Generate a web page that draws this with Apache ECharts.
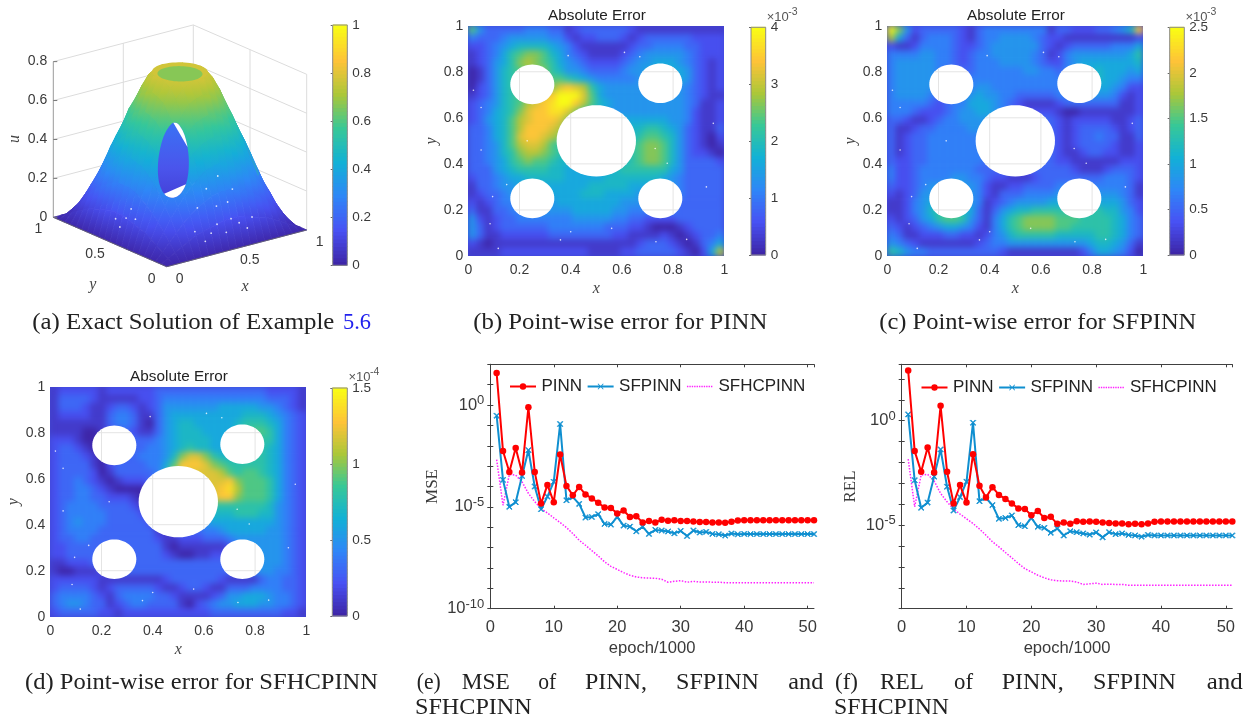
<!DOCTYPE html>
<html><head><meta charset="utf-8">
<script src="https://cdn.jsdelivr.net/npm/echarts@6/dist/echarts.min.js"></script>
<style>
html,body{margin:0;padding:0;background:#fff;width:1254px;height:717px;overflow:hidden}
.layer{position:absolute;left:0;top:0;width:1254px;height:717px}
</style></head><body>
<div class="layer" style="filter:blur(0.7px)" id="surface"></div>
<div class="layer" id="heatClip" style="background:#4046d0;clip-path:path('M468 26H724V256H468Z M887 26H1143V256H887Z M50 387H306V617H50Z')"><div class="layer" id="heat" style="filter:blur(3.2px)"></div></div>
<div class="layer" id="main"></div>
<script>
// ---------- data ----------
const parula = ['#3e26a8','#4852f4','#2e87f7','#12b1d6','#37c897','#abc739','#fec338','#f9fb15'];
const plotTicks = [0.2,0.4,0.6,0.8];
const holes = [[0.25,0.745,0.086],[0.75,0.75,0.086],[0.25,0.25,0.086],[0.75,0.25,0.086],[0.5,0.5,0.155]];
const specks = [[0.05,0.645],[0.05,0.46],[0.095,0.258],[0.23,0.5],[0.085,0.14],[0.36,0.07],[0.117,0.033],[0.4,0.105],[0.61,0.884],[0.67,0.865],[0.73,0.467],[0.777,0.403],[0.733,0.062],[0.957,0.576],[0.853,0.072],[0.39,0.87],[0.56,0.12],[0.93,0.3],[0.15,0.31],[0.02,0.72]];
// hex digit = level out of 15 of the colour-bar maximum; rows run from y=1 down to y=0
const errPINN = [
'95333334 44331233 33332111 11111111','43334555 55442122 33321233 33332222','22345677 77654211 11112334 44433222','1234689a a9764321 11123455 55543222',
'123568ab a9865432 22234556 66543212','0135789a aa875543 33345566 66653212','0135789a aa998765 44444556 66653212','0235789a aaacdcb8 65555556 66543212',
'1235789a bcdfffc9 65555555 55543211','2345789b cdeffdb9 76555555 55543112','234678ac ddeeca87 65555555 55542112','235679bc dddca876 66666666 65542112',
'334679bd ddcb8766 66667788 76532113','334679cd dcba8766 66667899 87532102','334579bc cb987766 666789aa 97532101','334578ab ba987766 666789aa 97532210',
'3345689a 99877666 666789aa 97533332','33356788 88776666 66788888 86533333','23345667 77776666 67777777 65433333','13345566 66666667 77776666 65433333',
'12334556 66666677 76666555 54433333','21234455 55566666 66655555 54333333','31133445 55555666 66554444 44333333','52123344 44444555 55443322 22333333',
'53123333 33444444 43332210 00123333','53112222 22333333 33221111 21012334','21011111 11111111 11111233 32101346','11112222 22222221 11122333 3321026b'];
const errSFPINN = [
'fa523333 32134444 44441332 2233457d','b6313444 32134455 55432211 11111112','21124444 32234555 55532123 33334446','44445544 32344555 55431245 55555568',
'45555544 32344455 55432245 66666667','45555543 33344444 45544345 66766656','45555543 33444444 44444445 66766544','45555543 33455444 44444445 66665422',
'45555433 34565544 33333445 55554212','44444323 44666543 21111233 33333112','44432223 45566543 22222100 11111112','33211234 45555543 33333212 22221123',
'31123344 44554443 33333212 33332123','31233444 44444433 33333212 33433113','31233444 44444433 33333212 33332112','31233444 44444333 33333211 23322112',
'32233444 44443333 33333221 11111222','42234444 44433333 22333332 11123332','42234444 55443221 11233333 33344432','32234556 65542112 23333444 44444431',
'21235566 66542133 34444555 55555431','11245667 76541234 55556666 66666532','11245788 87631356 77888888 88877542','21235689 98531468 9aaaa999 88887643',
'32123456 65421468 9aaaa998 88887643','43112223 32212457 88888777 77887643','54321111 11123445 55555555 56776531','87544333 33333321 11111111 24665420'];
const errSFHC = [
'12222212 22222333 33333333 33322221','13333211 11122344 44444444 44433321','13332112 33212355 55555666 66554321','12222113 44311356 66666666 77765432',
'11111113 44310356 77666667 88876432','11110012 23211356 77766667 89986432','22210012 33333456 77776667 88886432','23321012 33334456 78776667 88876432',
'23332102 33344457 acca8777 88876432','23333102 33334469 dddca988 88876432','23333201 3333347b cccccb98 99876432','23343210 1222347b ccccccda 99986432',
'23344321 0000147b cccccdeb 99986432','23344332 2210036a cccccdda 99986432','23444433 33210147 77778888 88875432','23444443 33321124 55667778 88775432',
'23454443 33332113 44556666 66665432','23444433 33333112 33344566 66655432','23344333 33333211 22233345 55555432','22333333 33333310 11111124 55555432',
'22333333 33333321 00112234 55555432','11222333 33333333 33333334 45555432','10011122 33333333 33333333 44554432','22222211 11111123 33333211 11344332',
'23333212 33333211 23321133 34444332','34444321 34444332 11112355 66654432','34554331 23443333 10234556 66554432','23333322 12222222 22223333 33333221'];
// surface height u, read at x and y steps of 0.05 (hundredths)
const surfaceU = [
[0,0,0,0,0,0,0,0,0,0,0,0,0,0,0,0,0,0,0,0,0],
[0,2,4,6,8,10,11,12,13,14,14,14,13,12,11,10,8,6,4,2,0],
[0,4,8,12,16,19,22,24,26,27,27,27,26,24,22,19,16,12,8,4,0],
[0,6,12,18,23,28,32,35,38,39,40,39,38,35,32,28,23,18,12,6,0],
[0,8,16,23,30,37,42,46,49,51,52,51,49,46,42,37,30,23,16,8,0],
[0,10,19,28,37,44,50,55,59,61,62,61,59,55,50,44,37,28,19,10,0],
[0,11,22,32,42,50,58,63,68,70,71,70,68,63,58,50,42,32,22,11,0],
[0,12,24,35,46,55,63,70,75,77,78,77,75,70,63,55,46,35,24,12,0],
[0,13,26,38,49,59,68,75,78,78,78,78,78,75,68,59,49,38,26,13,0],
[0,14,27,39,51,61,70,77,78,78,78,78,78,77,70,61,51,39,27,14,0],
[0,14,27,40,52,62,71,78,78,78,78,78,78,78,71,62,52,40,27,14,0],
[0,14,27,39,51,61,70,77,78,78,78,78,78,77,70,61,51,39,27,14,0],
[0,13,26,38,49,59,68,75,78,78,78,78,78,75,68,59,49,38,26,13,0],
[0,12,24,35,46,55,63,70,75,77,78,77,75,70,63,55,46,35,24,12,0],
[0,11,22,32,42,50,58,63,68,70,71,70,68,63,58,50,42,32,22,11,0],
[0,10,19,28,37,44,50,55,59,61,62,61,59,55,50,44,37,28,19,10,0],
[0,8,16,23,30,37,42,46,49,51,52,51,49,46,42,37,30,23,16,8,0],
[0,6,12,18,23,28,32,35,38,39,40,39,38,35,32,28,23,18,12,6,0],
[0,4,8,12,16,19,22,24,26,27,27,27,26,24,22,19,16,12,8,4,0],
[0,2,4,6,8,10,11,12,13,14,14,14,13,12,11,10,8,6,4,2,0],
[0,0,0,0,0,0,0,0,0,0,0,0,0,0,0,0,0,0,0,0,0]];
const surfaceSpecks = [[0.45,0.03],[0.4,0.05],[0.5,0.05],[0.55,0.04],[0.6,0.03],[0.35,0.04],[0.5,0.08],[0.42,0.08],[0.65,0.05],[0.55,0.1],[0.3,0.03],[0.03,0.45],[0.05,0.42],[0.04,0.5],[0.07,0.4],[0.06,0.35],[0.3,0.1],[0.38,0.12],[0.47,0.13],[0.25,0.06]];
const zTicks = [0,0.2,0.4,0.6,0.8];
const xyTicks = [0,0.5,1];
const epochs = [];
for (let n=1;n<=51;n++) epochs.push(n);
const msePINN = [37,5.5e-3,5.2e-4,7.8e-3,4.9e-4,0.78,5.2e-4,1.45e-5,1.2e-4,1.7e-5,3.7e-3,1.07e-4,3.7e-5,9.5e-5,4.1e-5,2.6e-5,1.6e-5,9.3e-6,8.9e-6,4.7e-6,6.6e-6,3.2e-6,3.5e-6,1.7e-6,2.0e-6,1.7e-6,2.3e-6,2.1e-6,2.2e-6,2.05e-6,2.05e-6,1.9e-6,1.8e-6,1.8e-6,1.7e-6,1.7e-6,1.65e-6,1.85e-6,2.15e-6,2.2e-6,2.2e-6,2.2e-6,2.2e-6,2.2e-6,2.2e-6,2.2e-6,2.2e-6,2.2e-6,2.2e-6,2.2e-6,2.2e-6];
const mseSFPINN = [0.30,2.1e-4,1e-5,1.7e-5,3.3e-4,6.1e-3,1.0e-4,7.7e-6,3.2e-5,1.7e-4,0.117,2.1e-5,3.0e-5,1.4e-5,3.0e-6,3.2e-6,4.4e-6,1.45e-6,1.35e-6,3.2e-6,1.2e-6,1.07e-6,6.3e-7,1.05e-6,4.7e-7,7.4e-7,6.9e-7,6.2e-7,5.0e-7,6.6e-7,3.7e-7,6.9e-7,5.5e-7,5.9e-7,4.7e-7,4.5e-7,3.9e-7,4.9e-7,4.5e-7,4.7e-7,4.6e-7,4.6e-7,4.6e-7,4.6e-7,4.6e-7,4.6e-7,4.6e-7,4.6e-7,4.6e-7,4.6e-7,4.6e-7];
const mseSFHC = [2.1e-3,1.2e-5,3.9e-4,3.6e-4,1.7e-4,4.6e-5,1.8e-5,8.3e-6,5e-6,2.9e-6,1.7e-6,9.6e-7,4.9e-7,2.3e-7,1.3e-7,7.1e-8,3.9e-8,2e-8,1.2e-8,8.5e-9,5.9e-9,4.4e-9,3.6e-9,3.3e-9,3.2e-9,3.1e-9,2.8e-9,2e-9,2.2e-9,2.4e-9,2e-9,2.2e-9,2.05e-9,2.05e-9,2e-9,2e-9,1.9e-9,1.9e-9,1.9e-9,1.9e-9,1.9e-9,1.9e-9,1.9e-9,1.9e-9,1.9e-9,1.9e-9,1.9e-9,1.9e-9,1.9e-9,1.9e-9,1.9e-9];
const relPINN = [250,3.5e-2,3.6e-3,5.2e-2,3.3e-3,5.2,3.6e-3,1.1e-4,8.3e-4,1.2e-4,2.5e-2,7.6e-4,2.1e-4,6.6e-4,2.8e-4,1.8e-4,1.1e-4,6.3e-5,6e-5,3e-5,4.7e-5,2.2e-5,2.5e-5,1.15e-5,1.35e-5,1.15e-5,1.55e-5,1.45e-5,1.5e-5,1.45e-5,1.35e-5,1.25e-5,1.2e-5,1.2e-5,1.1e-5,1.15e-5,1.1e-5,1.2e-5,1.45e-5,1.5e-5,1.5e-5,1.5e-5,1.5e-5,1.5e-5,1.5e-5,1.5e-5,1.5e-5,1.5e-5,1.5e-5,1.5e-5,1.5e-5];
const relSFPINN = [2.0,1.4e-3,6.8e-5,1.2e-4,2.1e-3,4.2e-2,6.9e-4,5e-5,2.2e-4,1.2e-3,0.8,1.4e-4,2e-4,9.1e-5,2e-5,2.2e-5,2.9e-5,1e-5,8.9e-6,2.2e-5,8.3e-6,7.4e-6,4.3e-6,6.9e-6,3.2e-6,5.1e-6,4.6e-6,4e-6,3.5e-6,4.5e-6,2.6e-6,4.6e-6,3.7e-6,4e-6,3.4e-6,3.2e-6,2.8e-6,3.4e-6,3.2e-6,3.2e-6,3.2e-6,3.2e-6,3.2e-6,3.2e-6,3.2e-6,3.2e-6,3.2e-6,3.2e-6,3.2e-6,3.2e-6,3.2e-6];
const relSFHC = [1.45e-2,7.6e-5,2.5e-3,2.7e-3,1.3e-3,3.3e-4,1.3e-4,5.9e-5,3.4e-5,2e-5,1.2e-5,6.5e-6,3.3e-6,1.6e-6,9.1e-7,4.9e-7,2.7e-7,1.45e-7,8.3e-8,5.8e-8,4e-8,3e-8,2.4e-8,2.2e-8,2.1e-8,2.1e-8,1.9e-8,1.45e-8,1.55e-8,1.66e-8,1.45e-8,1.5e-8,1.45e-8,1.45e-8,1.33e-8,1.33e-8,1.33e-8,1.33e-8,1.33e-8,1.33e-8,1.33e-8,1.33e-8,1.33e-8,1.33e-8,1.33e-8,1.33e-8,1.33e-8,1.33e-8,1.33e-8,1.33e-8,1.33e-8];
const captions = [
['(a) Exact Solution of Example',32.3,302,323,'#222'],['5.6',343,28,323,'#2222ee'],
['(b) Point-wise error for PINN',473.3,294,323,'#222'],['(c) Point-wise error for SFPINN',879.3,317,323,'#222'],
['(d) Point-wise error for SFHCPINN',25,353,683,'#222'],
['(e)',416.7,24,683,'#222'],['MSE',461.7,48,683,'#222'],['of',538.3,18,683,'#222'],['PINN,',585,62,683,'#222'],['SFPINN',676,83,683,'#222'],['and',788.3,35,683,'#222'],['SFHCPINN',415,116.7,708,'#222'],
['(f)',835,23,683,'#222'],['REL',880,44,683,'#222'],['of',954,19,683,'#222'],['PINN,',1001.7,62,683,'#222'],['SFPINN',1093,83,683,'#222'],['and',1206.7,36,683,'#222'],['SFHCPINN',834,115,708,'#222']];

// ---------- layout ----------
const SANS='"Liberation Sans"', SERIF='"Liberation Serif"', TXT='#3a3a3a';
const boxes = {b:[468.3,25.7,256,230.3],c:[887.3,25.7,256,230.3],d:[50.3,386.7,256,230]};
const bars = {a:[332.7,25,14.6,240.3,1,0.2],b:[751,27.3,14.7,227.7,4,1],c:[1169.7,27.3,14.6,227.7,2.5,0.5],d:[332.3,388,15,228,1.5,0.5]};
const col = t => echarts.color.lerp(Math.max(0,Math.min(1,t)), parula);
const gridOf = b => ({left:b[0],top:b[1],width:b[2],height:b[3]});

// ---------- 3-D projection for panel (a) ----------
const O=[166.7,266.7],Ex=[140,-36.7],Ey=[-113.4,-49.4],Ez=194.6;
const proj=(x,y,u)=>[O[0]+x*Ex[0]+y*Ey[0],O[1]+x*Ex[1]+y*Ey[1]-u*Ez];
const uAt=(x,y)=>{const gx=Math.min(19.999,Math.max(0,x*20)),gy=Math.min(19.999,Math.max(0,y*20)),i=Math.floor(gx),j=Math.floor(gy),a=gx-i,b=gy-j;
 return ((1-a)*(1-b)*surfaceU[j][i]+a*(1-b)*surfaceU[j][i+1]+(1-a)*b*surfaceU[j+1][i]+a*b*surfaceU[j+1][i+1])/100;};
const arc=(cx,cy,r,from,to,fixedU)=>{const p=[];for(let d=from;d<=to;d+=6){const t=d*Math.PI/180,x=cx+r*Math.cos(t),y=cy+r*Math.sin(t);p.push(proj(x,y,fixedU==null?uAt(x,y):fixedU));}return p;};

// ---------- surface layer ----------
const pxAxes=()=>({xAxis:{type:'value',min:0,max:1254,show:false},yAxis:{type:'value',min:0,max:717,inverse:true,show:false},grid:{left:0,top:0,width:1254,height:717}});
const allQuads=[];
for(let j=0;j<20;j++)for(let i=0;i<20;i++)allQuads.push([i,j]);
allQuads.sort((a,b)=>(b[0]+b[1])-(a[0]+a[1]));
const vGrad=(stops)=>new echarts.graphic.LinearGradient(0,0,0,1,stops);
const quadSeries=list=>({type:'custom',coordinateSystem:'cartesian2d',silent:true,data:list,renderItem:(p,api)=>{
 const i=api.value(0),j=api.value(1),U=surfaceU,us=[U[j][i],U[j][i+1],U[j+1][i+1],U[j+1][i]];
 const pts=[proj(i/20,j/20,us[0]/100),proj((i+1)/20,j/20,us[1]/100),proj((i+1)/20,(j+1)/20,us[2]/100),proj(i/20,(j+1)/20,us[3]/100)].map(c=>api.coord(c));
 const hi=Math.max(...us)/100,lo=Math.min(...us)/100;
 const g=vGrad([{offset:0,color:col(hi)},{offset:0.5,color:col((hi+lo)/2)},{offset:1,color:col(lo)}]);
 return {type:'polygon',shape:{points:pts},style:{fill:g,stroke:g,lineWidth:0.8}};}});
const wallLines=[];
zTicks.slice(1).forEach(z=>{wallLines.push([0,1,z,1,1,z]);wallLines.push([1,1,z,1,0,z]);});
wallLines.push([1,1,0,1,1,0.8],[1,0,0,1,0,0.8],[0.5,1,0,0.5,1,0.8],[1,0.5,0,1,0.5,0.8],[0,1,0,1,1,0],[1,1,0,1,0,0]);
const polySeries=(fn)=>({type:'custom',coordinateSystem:'cartesian2d',silent:true,data:[[0,0]],renderItem:(p,api)=>fn(api)});
const surfaceChart=echarts.init(document.getElementById('surface'));
surfaceChart.setOption(Object.assign(pxAxes(),{animation:false,series:[
 {type:'custom',coordinateSystem:'cartesian2d',silent:true,data:wallLines,renderItem:(p,api)=>{
   const a=api.coord(proj(api.value(0),api.value(1),api.value(2))),b=api.coord(proj(api.value(3),api.value(4),api.value(5)));
   return {type:'line',shape:{x1:a[0],y1:a[1],x2:b[0],y2:b[1]},style:{stroke:'#dcdcdc',lineWidth:1}};}},
 quadSeries(allQuads),
 polySeries(api=>({type:'polygon',shape:{points:arc(0.75,0.25,0.086,-60,70).map(c=>api.coord(c))},style:{fill:'#2a9ed2'}})),
 polySeries(api=>({type:'polygon',shape:{points:arc(0.5,0.5,0.155,0,354,0.78).map(c=>api.coord(c))},style:{fill:col(0.78)}})),
 polySeries(api=>({type:'polygon',shape:{points:arc(0.5,0.5,0.125,0,354,0.77).map(c=>api.coord(c))},style:{fill:col(0.67)}})),
 polySeries(api=>({type:'polygon',shape:{points:arc(0.25,0.25,0.086,0,354).map(c=>api.coord(c))},
   style:{fill:vGrad([{offset:0,color:'#3a72f4'},{offset:0.6,color:'#4a55ec'},{offset:1,color:'#4440d8'}])}})),
 polySeries(api=>({type:'polygon',shape:{points:arc(0.25,0.25,0.086,-15,55).map(c=>api.coord(c))},style:{fill:'#fff'}})),
 polySeries(api=>({type:'polygon',shape:{points:arc(0.25,0.25,0.086,195,285).map(c=>api.coord(c))},style:{fill:'#fff'}}))
]}));

// ---------- heat layer ----------
const heatCells=(rows,max)=>{const out=[];rows.forEach((row,r)=>{const s=row.replace(/\s/g,'');for(let c=0;c<32;c++)out.push([c,27-r,parseInt(s[c],16)*max/15]);});return out;};
const cats=n=>Array.from({length:n},(_,i)=>String(i));
const heatPanels=[[boxes.b,errPINN,4],[boxes.c,errSFPINN,2.5],[boxes.d,errSFHC,1.5]];
const heatChart=echarts.init(document.getElementById('heat'));
heatChart.setOption({animation:false,
 grid:heatPanels.map(p=>gridOf(p[0])),
 xAxis:heatPanels.map((p,i)=>({type:'category',gridIndex:i,data:cats(32),show:false})),
 yAxis:heatPanels.map((p,i)=>({type:'category',gridIndex:i,data:cats(28),show:false})),
 visualMap:heatPanels.map((p,i)=>({show:false,type:'continuous',seriesIndex:i,dimension:2,min:0,max:p[2],inRange:{color:parula}})),
 series:heatPanels.map((p,i)=>({type:'heatmap',xAxisIndex:i,yAxisIndex:i,data:heatCells(p[1],p[2]),silent:true,progressive:0,itemStyle:{borderWidth:0}}))
});

// ---------- main chart ----------
const grids=[],xAxes=[],yAxes=[],series=[];
const axisFont={fontFamily:SANS,color:TXT};
// panels b, c, d
[boxes.b,boxes.c,boxes.d].forEach(b=>{
 const g=grids.length;grids.push(gridOf(b));
 const common={type:'value',gridIndex:g,min:0,max:1,interval:0.2,axisLine:{show:false},axisTick:{show:false},splitLine:{show:false},nameLocation:'middle',nameTextStyle:{fontFamily:SERIF,fontStyle:'italic',fontSize:16,color:'#444'}};
 xAxes.push(Object.assign({},common,{name:'x',nameGap:25,axisLabel:Object.assign({fontSize:14,margin:7},axisFont)}));
 yAxes.push(Object.assign({},common,{name:'y',nameGap:27,axisLabel:Object.assign({fontSize:14,margin:5},axisFont)}));
 series.push({type:'custom',xAxisIndex:g,yAxisIndex:g,silent:true,clip:false,data:holes,renderItem:(p,api)=>{
   const cx=api.value(0),cy=api.value(1),r=api.value(2),pts=[];
   for(let d=0;d<360;d+=6){const t=d*Math.PI/180;pts.push(api.coord([cx+r*Math.cos(t),cy+r*Math.sin(t)]));}
   const kids=[{type:'polygon',shape:{points:pts},style:{fill:'#fff'}}];
   const add=(a,b)=>kids.push({type:'line',shape:{x1:a[0],y1:a[1],x2:b[0],y2:b[1]},style:{stroke:'#e4e4e4',lineWidth:1}});
   plotTicks.forEach(v=>{
     if(Math.abs(v-cx)<r){const h=Math.sqrt(r*r-(v-cx)*(v-cx));add(api.coord([v,cy-h]),api.coord([v,cy+h]));}
     if(Math.abs(v-cy)<r){const h=Math.sqrt(r*r-(v-cy)*(v-cy));add(api.coord([cx-h,v]),api.coord([cx+h,v]));}
   });
   return {type:'group',children:kids};}});
 series.push({type:'scatter',xAxisIndex:g,yAxisIndex:g,silent:true,data:specks,symbolSize:1.6,itemStyle:{color:'#fff'}});
});
// colour bars
Object.values(bars).forEach(b=>{
 const g=grids.length,max=b[4],levels=[];
 for(let i=0;i<64;i++)levels.push([0,i*max/64,(i+1)*max/64,i/63]);
 grids.push(Object.assign(gridOf(b),{show:true,borderColor:'#8a8a8a',borderWidth:1,z:5,backgroundColor:'transparent'}));
 xAxes.push({type:'value',gridIndex:g,min:0,max:1,show:false});
 yAxes.push({type:'value',gridIndex:g,min:0,max:max,interval:b[5],position:'right',axisLine:{show:false},splitLine:{show:false},
   axisTick:{show:true,inside:true,length:2,lineStyle:{color:'#666'}},axisLabel:Object.assign({fontSize:13.5,margin:5},axisFont)});
 series.push({type:'custom',xAxisIndex:g,yAxisIndex:g,silent:true,data:levels,renderItem:(p,api)=>{
   const a=api.coord([0,api.value(1)]),c=api.coord([1,api.value(2)]);
   return {type:'rect',shape:{x:a[0],y:c[1]-0.5,width:c[0]-a[0],height:a[1]-c[1]+1},style:{fill:col(api.value(3))}};}});
});
// line panels
const XMARK='path://M1 0L5 4L9 0L10 1L6 5L10 9L9 10L5 6L1 10L0 9L4 5L0 1Z';
const lineBlue='#0f8fd0';
const BOXED='M0 0L0.01 0L0 0.01Z M26 12L25.99 12L26 11.99Z ';
let dash='';for(let x=0;x<26;x+=2.4)dash+='M'+x+' 5.2h1.4v1.6h-1.4Z ';
const legendItems=[
 {name:'PINN',icon:'path://'+BOXED+'M0 5H26V7H0Z M9.8 6a3.2 3.2 0 1 1 6.4 0a3.2 3.2 0 1 1 -6.4 0Z',itemStyle:{borderWidth:0}},
 {name:'SFPINN',icon:'path://'+BOXED+'M0 5H26V7H0Z M10.6 3L13 5.4L15.4 3L16 3.6L13.6 6L16 8.4L15.4 9L13 6.6L10.6 9L10 8.4L12.4 6L10 3.6Z',itemStyle:{borderWidth:0}},
 {name:'SFHCPINN',icon:'path://'+BOXED+dash,itemStyle:{borderWidth:0}}];
const logLabel=v=>{const e=Math.log10(v),r=Math.round(e);return Math.abs(e-r)<1e-6&&r%5===0?'{b|10}{s|'+r+'}':'';};
const linePanel=(box,yMin,yMax,yName,nameGap,pinn,sf,hc,legendLeft,legendTop)=>{
 const g=grids.length;grids.push(gridOf(box));
 const line={show:true,lineStyle:{color:'#404040',width:1}},tick={show:true,inside:true,length:3,lineStyle:{color:'#404040'}};
 const xi=xAxes.length,yi=yAxes.length;
 xAxes.push({type:'value',gridIndex:g,min:0,max:51,interval:10,position:'bottom',axisLine:line,axisTick:tick,splitLine:{show:false},
   axisLabel:Object.assign({fontSize:16.5,margin:10,showMaxLabel:false},axisFont),name:'epoch/1000',nameLocation:'middle',nameGap:31,nameTextStyle:{fontFamily:SANS,fontSize:16.6,color:TXT}});
 xAxes.push({type:'value',gridIndex:g,min:0,max:51,interval:10,position:'top',axisLine:line,axisTick:tick,splitLine:{show:false},axisLabel:{show:false}});
 const yc={type:'log',logBase:10,gridIndex:g,min:yMin,max:yMax,interval:1,axisLine:line,axisTick:tick,splitLine:{show:false},minorTick:{show:false}};
 yAxes.push(Object.assign({},yc,{position:'left',name:yName,nameLocation:'middle',nameGap,nameTextStyle:{fontFamily:SERIF,fontSize:17,color:TXT},
   axisLabel:{formatter:logLabel,margin:6,color:TXT,rich:{b:{fontFamily:SANS,fontSize:16.5,color:TXT},s:{fontFamily:SANS,fontSize:13,color:TXT,padding:[0,0,9,0]}}}}));
 yAxes.push(Object.assign({},yc,{position:'right',axisLabel:{show:false}}));
 const mk=v=>v.map((y,i)=>[epochs[i],y]);
 series.push({name:'PINN',type:'line',xAxisIndex:xi,yAxisIndex:yi,data:mk(pinn),symbol:'circle',symbolSize:6.5,showSymbol:true,showAllSymbol:true,lineStyle:{color:'#ff0000',width:2},itemStyle:{color:'#ff0000'},silent:true,z:4});
 series.push({name:'SFPINN',type:'line',xAxisIndex:xi,yAxisIndex:yi,data:mk(sf),symbol:XMARK,symbolSize:5.5,showSymbol:true,showAllSymbol:true,lineStyle:{color:lineBlue,width:2},itemStyle:{color:lineBlue,borderColor:lineBlue,borderWidth:0.8},silent:true,z:3});
 series.push({name:'SFHCPINN',type:'line',xAxisIndex:xi,yAxisIndex:yi,data:mk(hc),symbol:'none',lineStyle:{color:'#ff22ff',width:1.5,type:'dotted'},itemStyle:{color:'#ff22ff'},silent:true,z:2});
 return {left:legendLeft,top:legendTop,itemWidth:27,itemHeight:12,itemGap:5.5,selectedMode:false,padding:0,itemStyle:{borderWidth:0},textStyle:{fontFamily:SANS,fontSize:17,color:'#222'},data:legendItems};
};
const legends=[
 linePanel([490.3,364.3,323.7,244.4],1e-10,100,'MSE',49,msePINN,mseSFPINN,mseSFHC,510,378),
 linePanel([901.7,364.3,330.6,244.4],1e-9,500,'REL',43,relPINN,relSFPINN,relSFHC,921.5,379)];
// px overlay for panel (a)
const pg=grids.length;grids.push({left:0,top:0,width:1254,height:717});
xAxes.push({type:'value',gridIndex:pg,min:0,max:1254,show:false});
yAxes.push({type:'value',gridIndex:pg,min:0,max:717,inverse:true,show:false});
series.push({type:'scatter',xAxisIndex:xAxes.length-1,yAxisIndex:yAxes.length-1,silent:true,symbolSize:1.8,itemStyle:{color:'#fff'},
  data:surfaceSpecks.map(s=>proj(s[0],s[1],uAt(s[0],s[1])))});

// graphic text
const mctx=document.createElement('canvas').getContext('2d');
const capFont='22.5px "Liberation Serif"';
const graphic=[];
captions.forEach(c=>{mctx.font=capFont;const w=mctx.measureText(c[0]).width;
 graphic.push({type:'text',x:c[1],y:c[3],scaleX:c[2]/w,silent:true,style:{text:c[0],font:capFont,fill:c[4],verticalAlign:'middle'}});});
const label=(text,x,y,size,family,color,extra)=>graphic.push(Object.assign({type:'text',x,y,silent:true,style:{text,font:(extra&&extra.italic?'italic ':'')+size+'px '+family,fill:color||TXT,align:(extra&&extra.align)||'center',verticalAlign:'middle'}},extra&&extra.rotation?{rotation:extra.rotation}:{}));
[[597,15.7],[1016,15.7],[179,376.7]].forEach(p=>label('Absolute Error',p[0],p[1],15.3,SANS,'#222'));
[[766.7,17,'-3'],[1185.5,17,'-3'],[348.5,377.5,'-4']].forEach(p=>{label('\u00d710',p[0],p[1],13,SANS,'#555',{align:'left'});label(p[2],p[0]+21.5,p[1]-5,10.5,SANS,'#555',{align:'left'});});
// 3-D axes
const seg=(a,b,c,w)=>graphic.push({type:'line',silent:true,shape:{x1:a[0],y1:a[1],x2:b[0],y2:b[1]},style:{stroke:c,lineWidth:w}});
seg(proj(0,1,0),proj(0,1,0.8),'#9a9a9a',1);
seg(proj(0,0,0),proj(1,0,0),'#666',0.8);seg(proj(0,0,0),proj(0,1,0),'#666',0.8);
zTicks.forEach(z=>{const p=proj(0,1,z);seg(p,[p[0]+4,p[1]],'#777',1);label(String(z),p[0]-6,p[1]-0.5,14,SANS,TXT,{align:'right'});});
xyTicks.forEach(v=>{const a=proj(v,0,0),b=proj(0,v,0);label(String(v),a[0]+13,a[1]+12,14,SANS);label(String(v),b[0]-15,b[1]+12,14,SANS);});
label('x',245,286.7,16,SERIF,'#444',{italic:true});
label('y',92.7,285,16,SERIF,'#444',{italic:true});
label('u',15,139,16,SERIF,'#444',{italic:true,rotation:Math.PI/2});

const mainChart=echarts.init(document.getElementById('main'));
mainChart.setOption({animation:false,backgroundColor:'transparent',tooltip:{show:false},grid:grids,xAxis:xAxes,yAxis:yAxes,legend:legends,series,graphic});
</script>
</body></html>
